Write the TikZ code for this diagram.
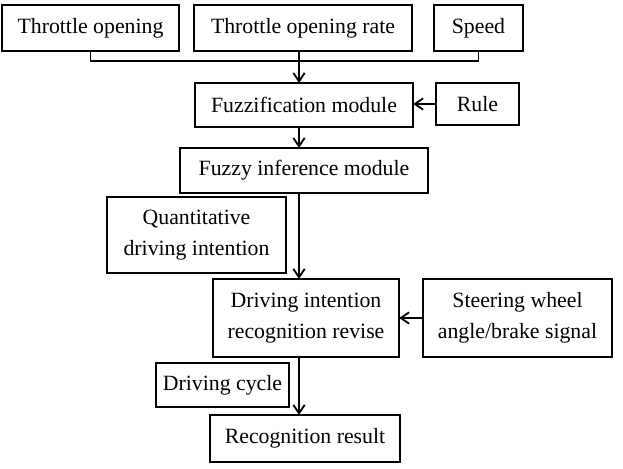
\documentclass[tikz,border=0pt]{standalone}
\usepackage{fontspec}
\setmainfont{Liberation Serif}
\usetikzlibrary{arrows.meta}

\begin{document}
\begin{tikzpicture}[x=0.025cm,y=-0.025cm,>={Straight Barb[length=6pt,width=8pt]},
    box/.style={draw,line width=1.6pt,inner sep=0pt,outer sep=0pt,align=center,
      font=\fontsize{15.5}{22}\selectfont},
    link/.style={line width=1.3pt}]
      \useasboundingbox (0,0) rectangle (623,468);
      % inputs
      \node[box,minimum width=4.425cm,minimum height=1.15cm] (thr) at (90.5,28) {Throttle opening};
      \node[box,minimum width=5.45cm,minimum height=1.15cm] (rate) at (303,28) {Throttle opening rate};
      \node[box,minimum width=2.225cm,minimum height=1.15cm] (speed) at (478.5,28) {Speed};
      % fuzzy part
      \node[box,minimum width=5.45cm,minimum height=1.1cm] (fuzz) at (304,105) {Fuzzification module};
      \node[box,minimum width=2.075cm,minimum height=1.05cm] (rule) at (477.5,104) {Rule};
      \node[box,minimum width=6.2cm,minimum height=1.125cm] (infer) at (304,170.5) {Fuzzy inference module};
      \node[box,minimum width=4.475cm,minimum height=1.9cm] (quant) at (196.5,235) {Quantitative\\driving intention};
      % revise part
      \node[box,minimum width=4.65cm,minimum height=1.95cm] (revise) at (306,318) {Driving intention\\recognition revise};
      \node[box,minimum width=4.725cm,minimum height=1.95cm] (steer) at (517.5,318) {Steering wheel\\angle/brake signal};
      \node[box,minimum width=3.325cm,minimum height=1.1cm] (cycle) at (222.5,385) {Driving cycle};
      \node[box,minimum width=4.75cm,minimum height=1.175cm] (result) at (305,438.5) {Recognition result};
      \coordinate (spine) at (299,0);
      \coordinate (bus) at (299,61);
      % connectors
      \draw[link] (thr.south) |- (bus) -| (speed.south);
      \draw[link,->] (spine |- rate.south) -- (spine |- fuzz.north);
      \draw[link,->] (rule.west) -- (rule.west -| fuzz.east);
      \draw[link,->] (spine |- fuzz.south) -- (spine |- infer.north);
      \draw[link,->] (spine |- infer.south) -- (spine |- revise.north);
      \draw[link,->] (steer.west) -- (revise.east);
      \draw[link,->] (spine |- revise.south) -- (spine |- result.north);
    \end{tikzpicture}
\end{document}
